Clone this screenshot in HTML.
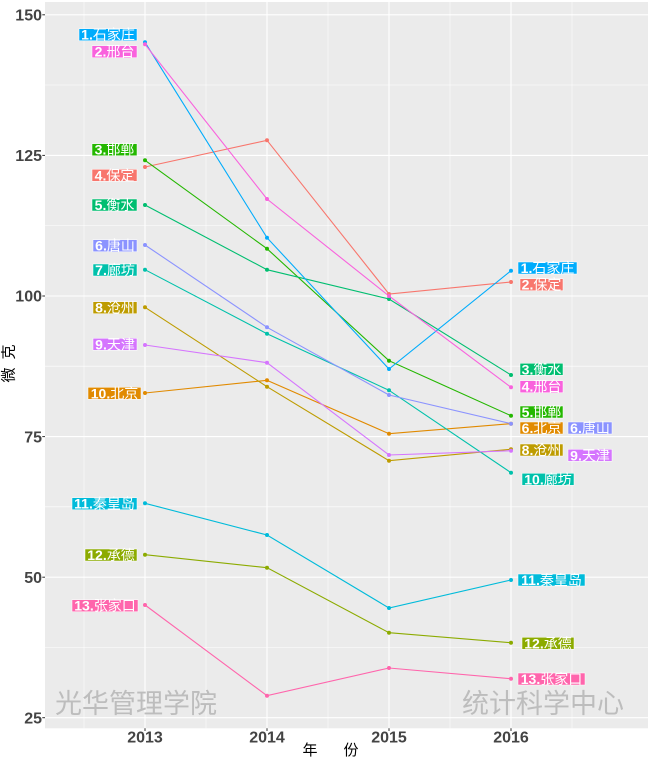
<!DOCTYPE html>
<html>
<head>
<meta charset="utf-8">
<style>
html,body{margin:0;padding:0;background:#fff;}
svg{display:block;}
.lb{font-family:"Liberation Sans","Noto Sans CJK SC",sans-serif;font-size:14px;fill:#fff;}
.lb .d{font-weight:bold;}
.yt{font-family:"Liberation Sans",sans-serif;font-size:16px;font-weight:bold;fill:#444;}
.xt{font-family:"Liberation Sans",sans-serif;font-size:16px;font-weight:bold;fill:#444;}
.wm{font-family:"Noto Sans CJK SC","WenQuanYi Zen Hei",sans-serif;font-size:27px;fill:#bdbdbd;}
.at{font-family:"Noto Sans CJK SC","WenQuanYi Zen Hei",sans-serif;font-size:15px;fill:#000;}
</style>
</head>
<body>
<svg width="650" height="758" viewBox="0 0 650 758" xmlns="http://www.w3.org/2000/svg">
<rect x="0" y="0" width="650" height="758" fill="#fff"/>
<!-- panel -->
<rect x="45" y="2" width="603" height="726.3" fill="#EBEBEB"/>
<!-- minor grid -->
<g stroke="#fff" stroke-width="0.55">
<line x1="45" x2="648" y1="647.4" y2="647.4"/>
<line x1="45" x2="648" y1="506.8" y2="506.8"/>
<line x1="45" x2="648" y1="366.2" y2="366.2"/>
<line x1="45" x2="648" y1="225.6" y2="225.6"/>
<line x1="45" x2="648" y1="85" y2="85"/>
<line y1="2" y2="728.3" x1="84" x2="84"/>
<line y1="2" y2="728.3" x1="206" x2="206"/>
<line y1="2" y2="728.3" x1="328" x2="328"/>
<line y1="2" y2="728.3" x1="450" x2="450"/>
<line y1="2" y2="728.3" x1="572" x2="572"/>
</g>
<!-- major grid -->
<g stroke="#fff" stroke-width="1.1">
<line x1="45" x2="648" y1="717.7" y2="717.7"/>
<line x1="45" x2="648" y1="577.2" y2="577.2"/>
<line x1="45" x2="648" y1="436.6" y2="436.6"/>
<line x1="45" x2="648" y1="296" y2="296"/>
<line x1="45" x2="648" y1="155.4" y2="155.4"/>
<line x1="45" x2="648" y1="14.8" y2="14.8"/>
<line y1="2" y2="728.3" x1="145" x2="145"/>
<line y1="2" y2="728.3" x1="267" x2="267"/>
<line y1="2" y2="728.3" x1="389" x2="389"/>
<line y1="2" y2="728.3" x1="511" x2="511"/>
</g>
<!-- watermarks -->
<text class="wm" x="55" y="713">光华管理学院</text>
<text class="wm" x="462" y="713">统计科学中心</text>
<!-- series lines -->
<g fill="none" stroke-width="1.1">
<polyline stroke="#F8766D" points="145,167 267,140.3 389,294 511,282"/>
<polyline stroke="#E18A00" points="145,393 267,380.3 389,433.7 511,423.7"/>
<polyline stroke="#BE9C00" points="145,307.3 267,386.7 389,460.7 511,449.3"/>
<polyline stroke="#8CAB00" points="145,554.7 267,567.7 389,632.7 511,642.7"/>
<polyline stroke="#24B700" points="145,160.3 267,248.7 389,360.7 511,415.7"/>
<polyline stroke="#00BE70" points="145,205 267,269.7 389,299 511,375"/>
<polyline stroke="#00C1AB" points="145,269.7 267,333.7 389,390.3 511,472.7"/>
<polyline stroke="#00BBDA" points="145,503.3 267,535 389,608 511,580"/>
<polyline stroke="#00ACFC" points="145,42.3 267,237.7 389,369 511,270.7"/>
<polyline stroke="#8B93FF" points="145,245 267,327.3 389,395 511,423.7"/>
<polyline stroke="#D575FE" points="145,345 267,362.7 389,455 511,450.7"/>
<polyline stroke="#F962DD" points="145,44.3 267,199 389,296 511,387.3"/>
<polyline stroke="#FF65AC" points="145,605 267,695.7 389,668 511,678.7"/>
</g>
<!-- points -->
<g>
<g fill="#F8766D"><circle cx="145" cy="167" r="2"/><circle cx="267" cy="140.3" r="2"/><circle cx="389" cy="294" r="2"/><circle cx="511" cy="282" r="2"/></g>
<g fill="#E18A00"><circle cx="145" cy="393" r="2"/><circle cx="267" cy="380.3" r="2"/><circle cx="389" cy="433.7" r="2"/><circle cx="511" cy="423.7" r="2"/></g>
<g fill="#BE9C00"><circle cx="145" cy="307.3" r="2"/><circle cx="267" cy="386.7" r="2"/><circle cx="389" cy="460.7" r="2"/><circle cx="511" cy="449.3" r="2"/></g>
<g fill="#8CAB00"><circle cx="145" cy="554.7" r="2"/><circle cx="267" cy="567.7" r="2"/><circle cx="389" cy="632.7" r="2"/><circle cx="511" cy="642.7" r="2"/></g>
<g fill="#24B700"><circle cx="145" cy="160.3" r="2"/><circle cx="267" cy="248.7" r="2"/><circle cx="389" cy="360.7" r="2"/><circle cx="511" cy="415.7" r="2"/></g>
<g fill="#00BE70"><circle cx="145" cy="205" r="2"/><circle cx="267" cy="269.7" r="2"/><circle cx="389" cy="299" r="2"/><circle cx="511" cy="375" r="2"/></g>
<g fill="#00C1AB"><circle cx="145" cy="269.7" r="2"/><circle cx="267" cy="333.7" r="2"/><circle cx="389" cy="390.3" r="2"/><circle cx="511" cy="472.7" r="2"/></g>
<g fill="#00BBDA"><circle cx="145" cy="503.3" r="2"/><circle cx="267" cy="535" r="2"/><circle cx="389" cy="608" r="2"/><circle cx="511" cy="580" r="2"/></g>
<g fill="#00ACFC"><circle cx="145" cy="42.3" r="2"/><circle cx="267" cy="237.7" r="2"/><circle cx="389" cy="369" r="2"/><circle cx="511" cy="270.7" r="2"/></g>
<g fill="#8B93FF"><circle cx="145" cy="245" r="2"/><circle cx="267" cy="327.3" r="2"/><circle cx="389" cy="395" r="2"/><circle cx="511" cy="423.7" r="2"/></g>
<g fill="#D575FE"><circle cx="145" cy="345" r="2"/><circle cx="267" cy="362.7" r="2"/><circle cx="389" cy="455" r="2"/><circle cx="511" cy="450.7" r="2"/></g>
<g fill="#F962DD"><circle cx="145" cy="44.3" r="2"/><circle cx="267" cy="199" r="2"/><circle cx="389" cy="296" r="2"/><circle cx="511" cy="387.3" r="2"/></g>
<g fill="#FF65AC"><circle cx="145" cy="605" r="2"/><circle cx="267" cy="695.7" r="2"/><circle cx="389" cy="668" r="2"/><circle cx="511" cy="678.7" r="2"/></g>
</g>
<!-- left labels -->
<g stroke="#fff" stroke-width="0.5">
<rect x="79" y="28.7" width="58" height="12" fill="#00ACFC"/>
<rect x="92" y="45.7" width="45" height="12" fill="#F962DD"/>
<rect x="92" y="143.7" width="45" height="12" fill="#24B700"/>
<rect x="92" y="169.3" width="45" height="12" fill="#F8766D"/>
<rect x="92" y="199" width="45" height="12" fill="#00BE70"/>
<rect x="93" y="239.7" width="44" height="12" fill="#8B93FF"/>
<rect x="93" y="264" width="44" height="12" fill="#00C1AB"/>
<rect x="93" y="301.7" width="44" height="12" fill="#BE9C00"/>
<rect x="93" y="338.3" width="44" height="12" fill="#D575FE"/>
<rect x="88" y="387.3" width="53" height="12" fill="#E18A00"/>
<rect x="72" y="497.7" width="65" height="12" fill="#00BBDA"/>
<rect x="85" y="549" width="52" height="12" fill="#8CAB00"/>
<rect x="72" y="599.7" width="66" height="12" fill="#FF65AC"/>
</g>
<g class="lb" text-anchor="middle">
<text x="108" y="39.7"><tspan class="d">1.</tspan>石家庄</text>
<text x="114.5" y="56.7"><tspan class="d">2.</tspan>邢台</text>
<text x="114.5" y="154.7"><tspan class="d">3.</tspan>邯郸</text>
<text x="114.5" y="180.3"><tspan class="d">4.</tspan>保定</text>
<text x="114.5" y="210"><tspan class="d">5.</tspan>衡水</text>
<text x="115" y="250.7"><tspan class="d">6.</tspan>唐山</text>
<text x="115" y="275"><tspan class="d">7.</tspan>廊坊</text>
<text x="115" y="312.7"><tspan class="d">8.</tspan>沧州</text>
<text x="115" y="349.3"><tspan class="d">9.</tspan>天津</text>
<text x="114.5" y="398.3"><tspan class="d">10.</tspan>北京</text>
<text x="104.5" y="508.7"><tspan class="d">11.</tspan>秦皇岛</text>
<text x="111" y="560"><tspan class="d">12.</tspan>承德</text>
<text x="105" y="610.7"><tspan class="d">13.</tspan>张家口</text>
</g>
<!-- right labels -->
<g stroke="#fff" stroke-width="0.5">
<rect x="518" y="262" width="59" height="12" fill="#00ACFC"/>
<rect x="520" y="278.7" width="43" height="12" fill="#F8766D"/>
<rect x="520" y="363.3" width="43" height="12" fill="#00BE70"/>
<rect x="520" y="380.7" width="43" height="12" fill="#F962DD"/>
<rect x="520" y="406" width="43" height="12" fill="#24B700"/>
<rect x="520" y="422" width="43" height="12" fill="#E18A00"/>
<rect x="568" y="422" width="44" height="12" fill="#8B93FF"/>
<rect x="520" y="444" width="43" height="12" fill="#BE9C00"/>
<rect x="568" y="449.3" width="44" height="12" fill="#D575FE"/>
<rect x="522" y="473.3" width="52" height="12" fill="#00C1AB"/>
<rect x="518" y="574" width="67" height="12" fill="#00BBDA"/>
<rect x="522" y="637.3" width="52" height="12" fill="#8CAB00"/>
<rect x="518" y="673" width="67" height="12" fill="#FF65AC"/>
</g>
<g class="lb" text-anchor="middle">
<text x="547.5" y="273"><tspan class="d">1.</tspan>石家庄</text>
<text x="541.5" y="289.7"><tspan class="d">2.</tspan>保定</text>
<text x="541.5" y="374.3"><tspan class="d">3.</tspan>衡水</text>
<text x="541.5" y="391.7"><tspan class="d">4.</tspan>邢台</text>
<text x="541.5" y="417"><tspan class="d">5.</tspan>邯郸</text>
<text x="541.5" y="433"><tspan class="d">6.</tspan>北京</text>
<text x="590" y="433"><tspan class="d">6.</tspan>唐山</text>
<text x="541.5" y="455"><tspan class="d">8.</tspan>沧州</text>
<text x="590" y="460.3"><tspan class="d">9.</tspan>天津</text>
<text x="548" y="484.3"><tspan class="d">10.</tspan>廊坊</text>
<text x="551.5" y="585"><tspan class="d">11.</tspan>秦皇岛</text>
<text x="548" y="648.3"><tspan class="d">12.</tspan>承德</text>
<text x="551.5" y="684"><tspan class="d">13.</tspan>张家口</text>
</g>
<!-- ticks -->
<g stroke="#333" stroke-width="1">
<line x1="42.3" x2="45" y1="717.7" y2="717.7"/>
<line x1="42.3" x2="45" y1="577.2" y2="577.2"/>
<line x1="42.3" x2="45" y1="436.6" y2="436.6"/>
<line x1="42.3" x2="45" y1="296" y2="296"/>
<line x1="42.3" x2="45" y1="155.4" y2="155.4"/>
<line x1="42.3" x2="45" y1="14.8" y2="14.8"/>
<line y1="728.3" y2="731" x1="145" x2="145"/>
<line y1="728.3" y2="731" x1="267" x2="267"/>
<line y1="728.3" y2="731" x1="389" x2="389"/>
<line y1="728.3" y2="731" x1="511" x2="511"/>
</g>
<!-- y tick labels -->
<g class="yt" text-anchor="end">
<text x="42" y="723.4">25</text>
<text x="42" y="582.9">50</text>
<text x="42" y="442.3">75</text>
<text x="42" y="301.7">100</text>
<text x="42" y="161.1">125</text>
<text x="42" y="20.5">150</text>
</g>
<!-- x tick labels -->
<g class="xt" text-anchor="middle">
<text x="145" y="742.7">2013</text>
<text x="267" y="742.7">2014</text>
<text x="389" y="742.7">2015</text>
<text x="511" y="742.7">2016</text>
</g>
<!-- axis titles -->
<g class="at" text-anchor="middle">
<text x="310" y="755">年</text>
<text x="351" y="755">份</text>
<text x="0" y="0" transform="translate(13.5,375) rotate(-90)">微</text>
<text x="0" y="0" transform="translate(13.5,352) rotate(-90)">克</text>
</g>
</svg>
</body>
</html>
